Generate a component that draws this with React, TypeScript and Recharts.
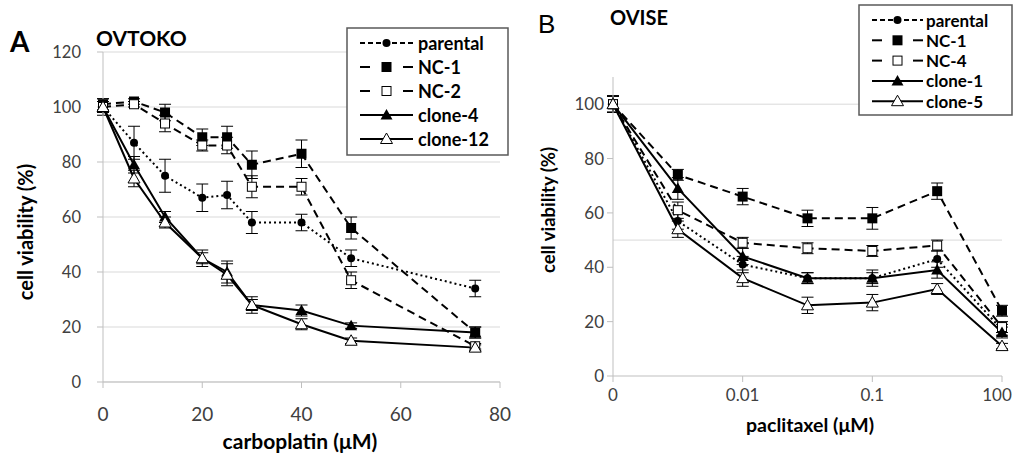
import { LineChart, Line, XAxis, YAxis, CartesianGrid, ErrorBar, ReferenceLine } from "recharts";

// OVTOKO, carboplatin
const carboplatinDose = [0, 6.25, 12.5, 20, 25, 30, 40, 50, 75];
const ovtokoParental = [100, 87, 75, 67, 68, 58, 58, 45, 34];
const ovtokoParentalErr = [3, 6, 6, 5, 5, 4, 3, 3, 3];
const ovtokoNC1 = [101, 102, 98, 89, 89, 79, 83, 56, 18];
const ovtokoNC1Err = [2, 1, 3, 3, 4, 5, 5, 4, 2];
const ovtokoNC2 = [100, 101, 94, 86, 86, 71, 71, 37, 13];
const ovtokoNC2Err = [2, 1, 3, 2, 3, 4, 3, 3, 1];
const ovtokoClone4 = [100, 79, 60, 45, 40, 28, 26, 20.5, 18];
const ovtokoClone4Err = [2, 3, 2, 3, 4, 3, 2, 1, 2];
const ovtokoClone12 = [100, 74, 58, 45, 39, 28, 21, 15, 12.5];
const ovtokoClone12Err = [2, 3, 2, 2, 4, 2, 2, 1, 1];

// OVISE, paclitaxel
const paclitaxelDose = ["0", "0.001", "0.01", "0.03", "0.1", "0.3", "100"];
const oviseParental = [100, 57, 41, 36, 36, 43, 17];
const oviseParentalErr = [3, 3, 3, 2, 2, 3, 2];
const oviseNC1 = [100, 74, 66, 58, 58, 68, 24];
const oviseNC1Err = [3, 2, 3, 3, 4, 3, 2];
const oviseNC4 = [100, 61, 49, 47, 46, 48, 18];
const oviseNC4Err = [3, 3, 2, 2, 2, 2, 2];
const oviseClone1 = [100, 69, 44, 36, 36, 39, 16];
const oviseClone1Err = [3, 4, 3, 2, 3, 3, 2];
const oviseClone5 = [100, 54, 36, 26, 27, 32, 11];
const oviseClone5Err = [3, 3, 3, 3, 3, 2, 1];

const leftRows = carboplatinDose.map((dose, i) => ({
  dose,
  parental: ovtokoParental[i],
  parentalErr: ovtokoParentalErr[i],
  nc1: ovtokoNC1[i],
  nc1Err: ovtokoNC1Err[i],
  nc2: ovtokoNC2[i],
  nc2Err: ovtokoNC2Err[i],
  cloneA: ovtokoClone4[i],
  cloneAErr: ovtokoClone4Err[i],
  cloneB: ovtokoClone12[i],
  cloneBErr: ovtokoClone12Err[i],
}));

const rightRows = paclitaxelDose.map((dose, i) => ({
  dose,
  parental: oviseParental[i],
  parentalErr: oviseParentalErr[i],
  nc1: oviseNC1[i],
  nc1Err: oviseNC1Err[i],
  nc2: oviseNC4[i],
  nc2Err: oviseNC4Err[i],
  cloneA: oviseClone1[i],
  cloneAErr: oviseClone1Err[i],
  cloneB: oviseClone5[i],
  cloneBErr: oviseClone5Err[i],
}));

const FONT = "Lato, 'Open Sans', sans-serif";
const AXIS = "#bfbfbf";
const TICK = "#404040";

type Kind = "circle" | "square" | "openSquare" | "triangle" | "openTriangle";

const drawMarker = (kind: Kind, cx: number, cy: number, key?: string | number) => {
  if (kind === "circle") return <circle key={key} cx={cx} cy={cy} r={4} fill="#000" />;
  if (kind === "square")
    return <rect key={key} x={cx - 5} y={cy - 5} width={10} height={10} fill="#000" />;
  if (kind === "openSquare")
    return <rect key={key} x={cx - 4.5} y={cy - 4.5} width={9} height={9} fill="#fff" stroke="#000" strokeWidth={1} />;
  const d = `M${cx},${cy - 6} L${cx + 6},${cy + 4.5} L${cx - 6},${cy + 4.5} Z`;
  if (kind === "triangle") return <path key={key} d={d} fill="#000" />;
  return <path key={key} d={d} fill="#fff" stroke="#000" strokeWidth={1} />;
};

const series: { key: string; kind: Kind; dash?: string }[] = [
  { key: "parental", kind: "circle", dash: "2 3" },
  { key: "nc1", kind: "square", dash: "8 5" },
  { key: "nc2", kind: "openSquare", dash: "8 5" },
  { key: "cloneA", kind: "triangle" },
  { key: "cloneB", kind: "openTriangle" },
];

const renderLines = () =>
  series.map((s) => (
    <Line
      key={s.key}
      dataKey={s.key}
      stroke="#000"
      strokeWidth={2}
      strokeDasharray={s.dash}
      isAnimationActive={false}
      dot={(p: any) =>
        p.cx == null ? <g key={p.index} /> : drawMarker(s.kind, p.cx, p.cy, `${s.key}-${p.index}`)
      }
      activeDot={false}
    >
      <ErrorBar dataKey={`${s.key}Err`} width={6} stroke="#000" strokeWidth={1} direction="y" />
    </Line>
  ));

// last paclitaxel label sits a bit inward, like the original
const DoseTick = (props: any) => {
  const { x, y, payload, index, visibleTicksCount } = props;
  const last = index === visibleTicksCount - 1;
  return (
    <text x={last ? x - 5 : x} y={y} dy="0.71em" textAnchor="middle" fill={TICK} fontSize={17} fontFamily={FONT}>
      {payload.value}
    </text>
  );
};

const LegendBox = ({
  x, y, w, h, rowGap, names, fontSize, sampleX, sampleW, textX,
}: {
  x: number; y: number; w: number; h: number; rowGap: number; names: string[];
  fontSize: number; sampleX: number; sampleW: number; textX: number;
}) => {
  const first = y + 15;
  const mid = sampleX + sampleW / 2;
  return (
    <g>
      <rect x={x} y={y} width={w} height={h} fill="#fff" stroke="#595959" strokeWidth={1.5} />
      {series.map((s, i) => {
        const cy = first + i * rowGap;
        let sample;
        if (s.kind === "circle") {
          sample = (
            <line x1={sampleX} x2={sampleX + sampleW} y1={cy} y2={cy} stroke="#000" strokeWidth={2} strokeDasharray="5 3" />
          );
        } else if (s.dash) {
          sample = (
            <g>
              <line x1={sampleX} x2={sampleX + 10} y1={cy} y2={cy} stroke="#000" strokeWidth={2} />
              <line x1={sampleX + sampleW - 10} x2={sampleX + sampleW} y1={cy} y2={cy} stroke="#000" strokeWidth={2} />
            </g>
          );
        } else {
          sample = <line x1={sampleX} x2={sampleX + sampleW} y1={cy} y2={cy} stroke="#000" strokeWidth={2} />;
        }
        return (
          <g key={s.key}>
            {sample}
            {drawMarker(s.kind, mid, cy)}
            <text x={textX} y={cy} dominantBaseline="central" fontSize={fontSize} fontWeight="bold" fontFamily={FONT} fill="#000">
              {names[i]}
            </text>
          </g>
        );
      })}
    </g>
  );
};

export default function App() {
  return (
    <div style={{ position: "absolute", left: 0, top: 0, width: 1015, height: 455, background: "#fff" }}>
      <div style={{ position: "absolute", left: 0, top: 0 }}>
        <LineChart width={515} height={455} data={leftRows} margin={{ top: 52, right: 15, bottom: 43, left: 41 }}>
          <CartesianGrid vertical={false} stroke="#d9d9d9" />
          <XAxis
            type="number"
            dataKey="dose"
            domain={[0, 80]}
            ticks={[0, 20, 40, 60, 80]}
            height={30}
            stroke={AXIS}
            tickSize={6}
            tickMargin={20}
            tick={{ fill: TICK, fontSize: 19, fontFamily: FONT }}
          />
          <YAxis
            domain={[0, 120]}
            ticks={[0, 20, 40, 60, 80, 100, 120]}
            width={62}
            stroke={AXIS}
            tickSize={6}
            tickMargin={16}
            tick={{ fill: TICK, fontSize: 16.5, fontFamily: FONT }}
          />
          {renderLines()}
        </LineChart>
      </div>
      <div style={{ position: "absolute", left: 515, top: 0 }}>
        <LineChart width={500} height={455} data={rightRows} margin={{ top: 77, right: 13, bottom: 49, left: 38 }}>
          <ReferenceLine y={50} stroke="#d9d9d9" />
          <ReferenceLine y={100} stroke="#d9d9d9" />
          <XAxis
            dataKey="dose"
            interval={1}
            height={30}
            stroke={AXIS}
            tickSize={6}
            tickMargin={7}
            tick={<DoseTick />}
          />
          <YAxis
            domain={[0, 110]}
            ticks={[0, 20, 40, 60, 80, 100]}
            width={60}
            stroke={AXIS}
            tickSize={6}
            tickMargin={3}
            tick={{ fill: TICK, fontSize: 17, fontFamily: FONT }}
          />
          {renderLines()}
        </LineChart>
      </div>
      <svg width={1015} height={455} style={{ position: "absolute", left: 0, top: 0, pointerEvents: "none" }}>
        <text x={10} y={52} fontSize={28} fontWeight="bold" fontFamily={FONT}>A</text>
        <text x={96} y={46} fontSize={21} fontWeight="bold" fontFamily={FONT}>OVTOKO</text>
        <text x={538} y={33} fontSize={26} fontFamily="'Liberation Sans', sans-serif">B</text>
        <text x={610} y={25} fontSize={20} fontWeight="bold" fontFamily={FONT}>OVISE</text>
        <text x={25} y={232} transform="rotate(-90 25 232)" textAnchor="middle" dominantBaseline="central" fontSize={20} fontWeight="bold" fontFamily={FONT}>
          cell viability (%)
        </text>
        <text x={548} y={210} transform="rotate(-90 548 210)" textAnchor="middle" dominantBaseline="central" fontSize={18.5} fontWeight="bold" fontFamily={FONT}>
          cell viability (%)
        </text>
        <text x={300} y={440} textAnchor="middle" dominantBaseline="central" fontSize={21} fontWeight="bold" fontFamily={FONT}>
          carboplatin (μM)
        </text>
        <text x={810} y={424} textAnchor="middle" dominantBaseline="central" fontSize={19.5} fontWeight="bold" fontFamily={FONT}>
          paclitaxel (μM)
        </text>
        <LegendBox x={347} y={28} w={161} h={127} rowGap={24} names={["parental", "NC-1", "NC-2", "clone-4", "clone-12"]}
          fontSize={18} sampleX={360} sampleW={53} textX={418} />
        <LegendBox x={859} y={5} w={153} h={110} rowGap={20.3} names={["parental", "NC-1", "NC-4", "clone-1", "clone-5"]}
          fontSize={17} sampleX={872} sampleW={51} textX={926} />
      </svg>
    </div>
  );
}
